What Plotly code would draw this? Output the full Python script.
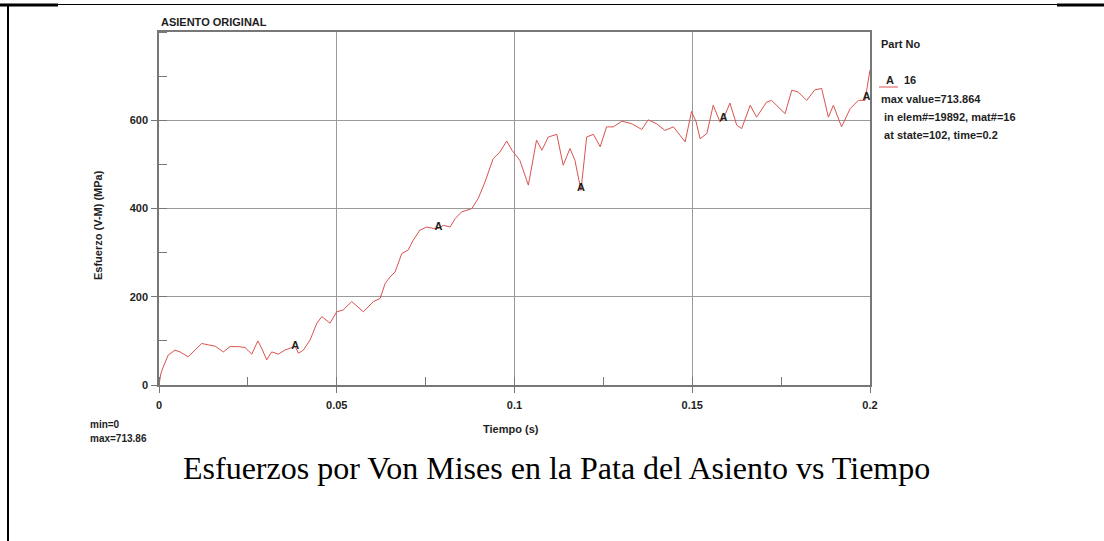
import plotly.graph_objects as go

# ---------------- data ----------------
time_s = [0.0, 0.0005, 0.0012, 0.0026, 0.0045, 0.0059, 0.0082, 0.0101, 0.0120, 0.0139,
          0.0158, 0.0181, 0.0200, 0.0223, 0.0242, 0.0261, 0.0278, 0.0289, 0.0303, 0.0317,
          0.0336, 0.0354, 0.0368, 0.0383, 0.0392, 0.0406, 0.0425, 0.0444, 0.0458, 0.0470,
          0.0481, 0.0500, 0.0518, 0.0542, 0.0575, 0.0603, 0.0622, 0.0636, 0.0650, 0.0664,
          0.0683, 0.0701, 0.0715, 0.0734, 0.0753, 0.0772, 0.0786, 0.0800, 0.0819, 0.0833,
          0.0851, 0.0880, 0.0898, 0.0917, 0.0940, 0.0959, 0.0978, 0.0993, 0.1015, 0.1039,
          0.1062, 0.1077, 0.1095, 0.1119, 0.1137, 0.1156, 0.1170, 0.1187, 0.1203, 0.1222,
          0.1241, 0.1259, 0.1278, 0.1302, 0.1330, 0.1358, 0.1376, 0.1400, 0.1423, 0.1447,
          0.1480, 0.1498, 0.1511, 0.1522, 0.1541, 0.1559, 0.1578, 0.1588, 0.1606, 0.1625,
          0.1639, 0.1663, 0.1681, 0.1709, 0.1723, 0.1761, 0.1780, 0.1798, 0.1822, 0.1845,
          0.1864, 0.1883, 0.1897, 0.1920, 0.1944, 0.1967, 0.1986, 0.2000]
stress_mpa = [0, 25, 41, 68, 79, 75, 64, 79, 94, 91,
              88, 75, 87, 87, 85, 70, 100, 83, 57, 75,
              70, 79, 83, 88, 72, 79, 102, 140, 155, 147,
              140, 166, 170, 189, 166, 189, 196, 230, 245, 256,
              298, 306, 328, 351, 358, 355, 355, 362, 358, 377,
              392, 400, 423, 460, 513, 528, 553, 532, 509, 453,
              555, 532, 562, 568, 498, 536, 509, 441, 562, 568,
              540, 585, 585, 598, 592, 579, 601, 592, 577, 585,
              551, 620, 596, 558, 570, 634, 596, 604, 639, 589,
              581, 634, 607, 641, 645, 615, 668, 664, 645, 669,
              672, 607, 634, 585, 626, 645, 645, 713.864]

marker_time = [0.0383, 0.0786, 0.1187, 0.1588, 0.1990]
marker_stress = [88, 357, 446, 604, 652]

x_tick_vals = [0, 0.05, 0.1, 0.15, 0.2]
x_tick_text = ["0", "0.05", "0.1", "0.15", "0.2"]
y_tick_vals = [0, 200, 400, 600]
y_tick_text = ["0", "200", "400", "600"]

legend_lines = ["max value=713.864", " in elem#=19892, mat#=16", " at state=102, time=0.2"]

# ---------------- layout geometry ----------------
W, H = 1104, 541
L, R, T, B = 159, 870, 32, 385


def px(x):
    return (x - L) / (R - L)


def py(y):
    return (B - y) / (B - T)


SANS = "Liberation Sans, Arial, sans-serif"
INK = "#1e1e1e"
txt_font = dict(family=SANS, size=11, color=INK, weight="bold")

fig = go.Figure()
fig.add_trace(go.Scatter(x=time_s, y=stress_mpa, mode="lines",
                         line=dict(color="#d9534f", width=1), showlegend=False,
                         hoverinfo="x+y"))
fig.add_trace(go.Scatter(x=marker_time, y=marker_stress, mode="text", text=["A"] * len(marker_time),
                         textfont=dict(family=SANS, size=11, color=INK, weight="bold"),
                         showlegend=False, hoverinfo="skip"))

axis_common = dict(showline=True, linecolor="#777777", linewidth=1.5, mirror=True,
                   showgrid=True, gridcolor="#9a9a9a", gridwidth=1, zeroline=False,
                   ticks="outside", ticklen=6, tickcolor="#777777",
                   tickfont=dict(family=SANS, size=11, color=INK, weight="bold"))

fig.update_xaxes(range=[0, 0.2], tickvals=x_tick_vals, ticktext=x_tick_text,
                 minor=dict(ticks="inside", ticklen=8, tickcolor="#777777", dtick=0.025, showgrid=False),
                 ticklabelstandoff=3, **axis_common)
fig.update_yaxes(range=[0, 800], tickvals=y_tick_vals, ticktext=y_tick_text,
                 minor=dict(ticks="inside", ticklen=8, tickcolor="#777777", dtick=100, showgrid=False),
                 ticklabelstandoff=1, **axis_common)

ann = []
ann.append(dict(x=px(159), y=py(22), text="ASIENTO ORIGINAL", xanchor="left", yanchor="middle",
                font=txt_font))
ann.append(dict(x=px(879), y=py(44), text="Part No", xanchor="left", yanchor="middle", font=txt_font))
ann.append(dict(x=px(890), y=py(80), text="A", xanchor="center", yanchor="middle", font=txt_font))
ann.append(dict(x=px(902), y=py(80), text="16", xanchor="left", yanchor="middle", font=txt_font))
for i, line in enumerate(legend_lines):
    ann.append(dict(x=px(879), y=py(99 + i * 18), text=line, xanchor="left", yanchor="middle",
                    font=txt_font))
ann.append(dict(x=px(88), y=py(424), text="min=0", xanchor="left", yanchor="middle",
                font=dict(family=SANS, size=10, color=INK, weight="bold")))
ann.append(dict(x=px(88), y=py(438), text="max=713.86", xanchor="left", yanchor="middle",
                font=dict(family=SANS, size=10, color=INK, weight="bold")))
ann.append(dict(x=px(511), y=py(429), text="Tiempo (s)", xanchor="center", yanchor="middle",
                font=txt_font))
ann.append(dict(x=px(98), y=py(225), text="Esfuerzo (V-M) (MPa)", textangle=-90,
                xanchor="center", yanchor="middle", font=txt_font))
ann.append(dict(x=px(556), y=py(468), text="Esfuerzos por Von Mises en la Pata del Asiento vs Tiempo",
                xanchor="center", yanchor="middle",
                font=dict(family="Liberation Serif, Times New Roman, serif", size=32, color="#000000")))
for a in ann:
    a.update(xref="paper", yref="paper", showarrow=False)

shapes = [
    dict(type="line", x0=px(0), x1=px(W), y0=py(4.5), y1=py(4.5), line=dict(color="black", width=1)),
    dict(type="line", x0=px(0), x1=px(58), y0=py(5), y1=py(5), line=dict(color="black", width=3)),
    dict(type="line", x0=px(1057), x1=px(W), y0=py(5), y1=py(5), line=dict(color="black", width=3)),
    dict(type="line", x0=px(8), x1=px(8), y0=py(4), y1=py(H), line=dict(color="black", width=2)),
    dict(type="line", x0=px(879), x1=px(898), y0=py(87), y1=py(87), line=dict(color="#d9534f", width=1)),
]
for s in shapes:
    s.update(xref="paper", yref="paper")

fig.update_layout(width=W, height=H, margin=dict(l=L, r=W - R, t=T, b=H - B, pad=0),
                  paper_bgcolor="white", plot_bgcolor="white",
                  annotations=ann, shapes=shapes, showlegend=False)

fig.write_html("out.html", config={"displayModeBar": False},
               post_script="document.body.style.margin='0';")
